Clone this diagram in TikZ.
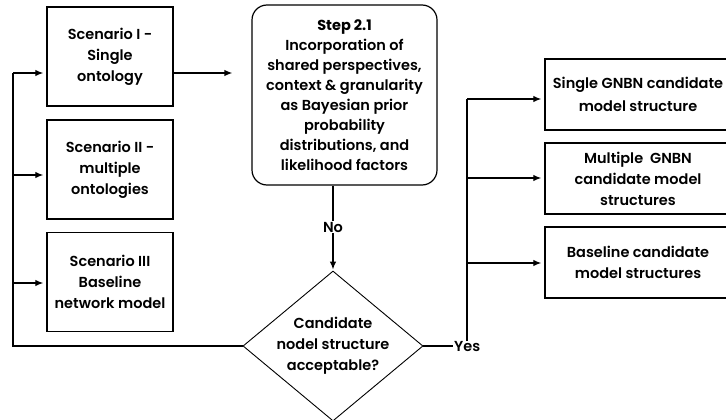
\documentclass[tikz,border=0pt]{standalone}
\usepackage{fontspec}
\setmainfont{Poppins}[UprightFont={* SemiBold}, BoldFont={* Bold}]
\usetikzlibrary{arrows.meta,shapes.geometric}
\tikzset{
  box/.style={draw, line width=1.4pt, minimum width=126pt, minimum height=99pt,
    align=center, inner sep=0pt, font=\fontsize{14.5}{21}\selectfont},
  stepbox/.style={draw, line width=1.2pt, rounded corners=15pt, minimum width=185pt,
    minimum height=180pt, align=center, inner sep=0pt, font=\fontsize{14.5}{20}\selectfont},
  outbox/.style={draw, line width=1.4pt, minimum width=186pt, minimum height=71pt,
    align=center, inner sep=0pt, font=\fontsize{14.5}{21}\selectfont},
  decision/.style={draw, line width=0.9pt, diamond, minimum width=180pt, minimum height=150pt,
    inner sep=0pt},
  lbl/.style={align=center, inner sep=1pt, font=\fontsize{14.5}{21}\selectfont},
  conn/.style={line width=1.3pt},
  arr/.style={conn, -{Latex[length=8pt,width=6.5pt]}},
}
\begin{document}
\begin{tikzpicture}[x=1pt, y=-1pt]
\useasboundingbox (0,0) rectangle (726,420);

% scenario boxes
\node[box] (s1) at (110,56.5) {Scenario I -\\Single\\ontology};
\node[box] (s2) at (110,169.5) {Scenario II -\\multiple\\ontologies};
\node[box] (s3) at (110,282) {Scenario III\\Baseline\\network model};

% step 2.1
\node[stepbox] (step) at (344.5,95) {\textbf{Step 2.1}\\Incorporation of\\shared perspectives,\\context \& granularity\\as Bayesian prior\\probability\\distributions, and\\likelihood factors};

% decision
\node[decision] (dec) at (333,346) {};
\node[lbl] (dect) at (dec) {Candidate\\nodel structure\\acceptable?};

% output boxes
\node[outbox, font=\fontsize{14.5}{22.5}\selectfont] (o1) at (638,94.5) {Single GNBN candidate\\model structure};
\node[outbox] (o2) at (638,178.5) {Multiple\ \ GNBN\\candidate model\\structures};
\node[outbox] (o3) at (638,262.5) {Baseline candidate\\model structures};

% branch labels
\node[lbl] (no) at (333,227) {No};
\node[lbl, anchor=west] (yes) at (453,347) {Yes};

% feedback loop
\coordinate (fb) at (13,346);
\coordinate (fbtop) at (13,73);
\draw[conn] (dec.west) -- (fb) -- (fbtop);
\draw[arr, shorten >=3pt] (fbtop) -- (s1.west |- fbtop);
\draw[arr, shorten >=3pt] (13,175) -- (s2.west |- 0,175);
\draw[arr, shorten >=3pt] (13,283) -- (s3.west |- 0,283);

% scenario to step
\draw[arr, shorten >=19pt] (s1.east |- 0,73) -- (step.west |- 0,73);

% step to decision
\draw[conn] (step.south -| dec.north) -- (no.north);
\draw[arr, shorten >=1pt] (no.south) -- (dec.north);

% yes branch
\coordinate (ytop) at (467,99);
\draw[conn] (dec.east) -- (dec.east -| yes.west);
\draw[conn] (yes.north -| ytop) -- (ytop);
\draw[arr, shorten >=3pt] (ytop) -- (o1.west |- ytop);
\draw[arr, shorten >=3pt] (467,178) -- (o2.west |- 0,178);
\draw[arr, shorten >=3pt] (467,263) -- (o3.west |- 0,263);
\end{tikzpicture}
\end{document}
